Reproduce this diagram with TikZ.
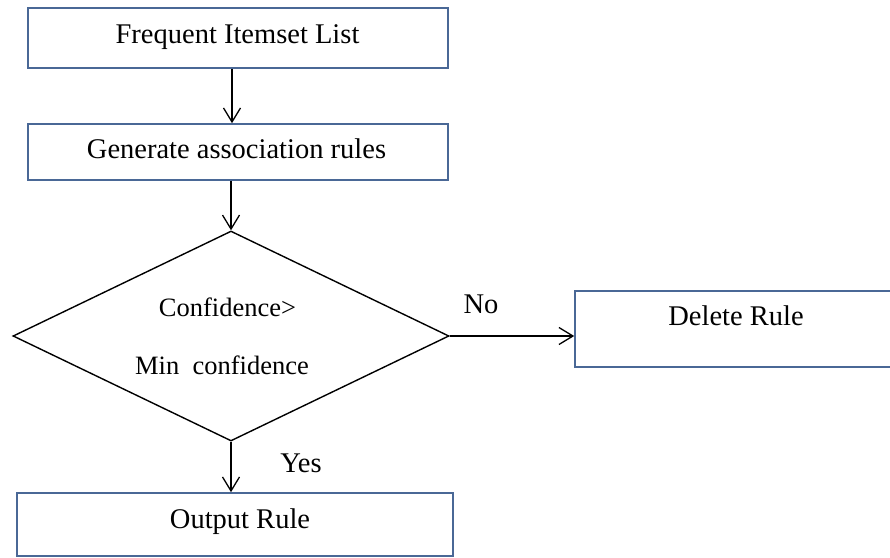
\documentclass[tikz,border=0pt]{standalone}
\usepackage{fontspec}
\setmainfont{Liberation Serif}
\usetikzlibrary{arrows.meta,shapes.geometric}
\definecolor{boxblue}{RGB}{74,104,150}
\tikzset{
  flowbox/.style={draw=boxblue, line width=1.6pt, fill=white, inner sep=0pt},
  boxtext/.style={anchor=base, inner sep=0pt, font=\fontsize{28.5}{31}\selectfont},
  dectext/.style={anchor=base, inner sep=0pt, font=\fontsize{26.5}{29}\selectfont},
  flow/.style={line width=1.3pt, -{Straight Barb[length=14pt,width=17pt,line width=1.3pt]}},
}
\begin{document}
\begin{tikzpicture}[x=1pt, y=-1pt]
  \useasboundingbox (0,0) rectangle (890,557);
  % process boxes
  \node[flowbox, minimum width=420pt, minimum height=60pt] (list) at (238,38) {};
  \node[flowbox, minimum width=420pt, minimum height=56pt] (gen) at (238,152) {};
  \node[flowbox, minimum width=436pt, minimum height=63pt] (out) at (235,524.5) {};
  \node[flowbox, minimum width=322pt, minimum height=76pt] (del) at (736,329) {};
  % decision
  \node[diamond, draw, line width=1.4pt, aspect=2.08, minimum width=436pt,
        minimum height=210pt, inner sep=0pt] (dec) at (231,336) {};
  % texts
  \node[boxtext] (tlist) at (237.5,43) {Frequent Itemset List};
  \node[boxtext] (tgen) at (236.5,158) {Generate association rules};
  \node[dectext] (tconf) at (227.5,316) {Confidence>};
  \node[dectext] (tmin) at (222,374) {Min\ \ confidence};
  \node[boxtext] (tdel) at (736,325) {Delete Rule};
  \node[boxtext] (tout) at (240,528) {Output Rule};
  \node[boxtext] (tno) at (481,313) {No};
  \node[boxtext] (tyes) at (301,472) {Yes};
  % connectors
  \coordinate (a1) at (232,0);
  \draw[flow] (list.south -| a1) -- (gen.north -| a1);
  \draw[flow] (gen.south -| dec.north) -- (dec.north);
  \draw[flow] (dec.south) -- (out.north -| dec.south);
  \draw[flow] (dec.east) -- (del.west |- dec.east);
\end{tikzpicture}
\end{document}
